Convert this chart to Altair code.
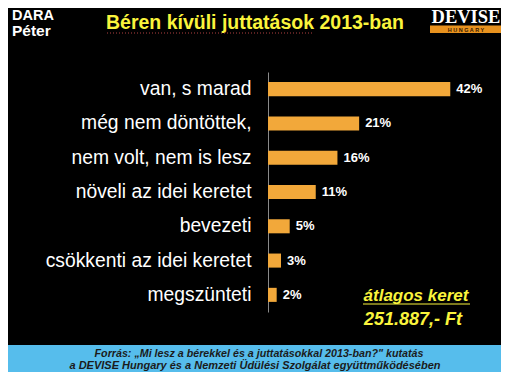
import altair as alt
import pandas as pd

categories = ["van, s marad", "még nem döntöttek,", "nem volt, nem is lesz",
              "növeli az idei keretet", "bevezeti", "csökkenti az idei keretet",
              "megszünteti"]
values = [42, 21, 16, 11, 5, 3, 2]
labels = [f"{v}%" for v in values]

title_text = "Béren kívüli juttatások 2013-ban"
author_lines = ["DARA", "Péter"]
logo_text = "DEVISE"
logo_sub = "H   U   N   G   A   R   Y"
avg_lines = ["átlagos keret", "251.887,- Ft"]
source_lines = ["Forrás: „Mi lesz a bérekkel és a juttatásokkal 2013-ban?\" kutatás",
                "a DEVISE Hungary és a Nemzeti Üdülési Szolgálat együttműködésében"]

df = pd.DataFrame({"cat": categories, "val": values, "lab": labels})

FONT = "Liberation Sans"
YELLOW = "#FAF43C"
BAR = "#F2A83A"

y_enc = alt.Y("cat:N", sort=categories,
              scale=alt.Scale(paddingInner=0.59, paddingOuter=0.295),
              axis=alt.Axis(title=None, ticks=False, labelPadding=17, labelLimit=320,
                            labelFont=FONT, labelFontSize=19.3, labelColor="white",
                            domainColor="#8a8a8a", domainWidth=1, grid=False))
x_enc = alt.X("val:Q", scale=alt.Scale(domain=[0, 50], nice=False), axis=None)

bars = alt.Chart(df).mark_bar(color=BAR).encode(x=x_enc, y=y_enc)
vals = alt.Chart(df).mark_text(align="left", baseline="middle", dx=6, font=FONT,
                               fontSize=13, fontWeight="bold", color="white").encode(
    x=x_enc, y=alt.Y("cat:N", sort=categories), text="lab:N")


def txt(s, x, y, size, color, align="center", weight="bold", style="normal",
        font=FONT, baseline="alphabetic"):
    return alt.Chart(pd.DataFrame({"t": [s]})).mark_text(
        align=align, baseline=baseline, font=font, fontSize=size,
        fontWeight=weight, fontStyle=style, color=color).encode(
        x=alt.value(x), y=alt.value(y), text="t:N")


def rect(x, x2, y, y2, color):
    return alt.Chart(pd.DataFrame({"a": [0]})).mark_rect(color=color).encode(
        x=alt.value(x), x2=alt.value(x2), y=alt.value(y), y2=alt.value(y2))


def rule(x, x2, y, color, dash=None, width=1):
    kw = dict(color=color, strokeWidth=width)
    if dash:
        kw["strokeDash"] = dash
    return alt.Chart(pd.DataFrame({"a": [0]})).mark_rule(**kw).encode(
        x=alt.value(x), x2=alt.value(x2), y=alt.value(y))


layers = [
    rect(-263, 236, 273, 310, "#56BDEC"),
    bars, vals,
    txt(title_text, -13, -43, 19.5, YELLOW),
    rule(-161, 45, -39, "#b04040", dash=[1, 2]),
    txt(author_lines[0], -256, -52.5, 14.5, "white", align="left"),
    txt(author_lines[1], -256, -36.5, 15.5, "white", align="left"),
    txt(logo_text, 198, -49, 18.5, "white", font="Liberation Serif"),
    rect(162, 233, -46.5, -39, "#E8921E"),
    txt(logo_sub, 198, -42.5, 5.5, "#3a1a00", baseline="middle"),
    txt(avg_lines[0], 148, 229, 17, YELLOW, style="italic"),
    rule(95, 202, 232, YELLOW),
    txt(avg_lines[1], 145, 253, 18, YELLOW, style="italic"),
    txt(source_lines[0], -9, 284.5, 10.7, "#1b1b1b", style="italic"),
    txt(source_lines[1], -13, 296.5, 11, "#1b1b1b", style="italic"),
]

chart = alt.layer(*layers).properties(
    width=217, height=240,
    autosize=alt.AutoSizeParams(type="none"),
    padding={"left": 260, "top": 64, "right": 16, "bottom": 60},
    background="black",
).configure_view(stroke=None)

chart.save("out.html", embed_options={"renderer": "svg", "actions": False})
